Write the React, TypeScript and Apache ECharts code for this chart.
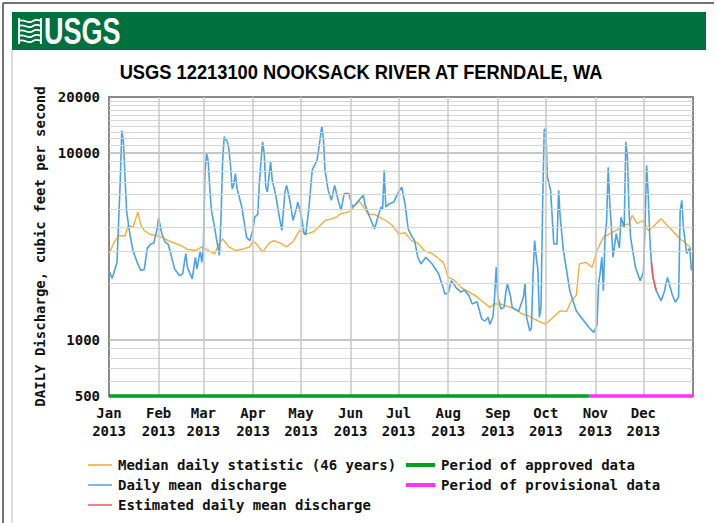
import React, { useEffect, useRef } from "react";
import * as echarts from "echarts";

// ---- axis data ----
const monthStartDays = [0, 31, 59, 90, 120, 151, 181, 212, 243, 273, 304, 334];
const monthLabels = ["Jan", "Feb", "Mar", "Apr", "May", "Jun", "Jul", "Aug", "Sep", "Oct", "Nov", "Dec"];
const yearLabel = "2013";
const yMin = 500;
const yMax = 20000;
const yearDays = 365;

// ---- series data: [day of year (0 = Jan 1), cubic feet per second] ----
const dailyMean: [number, number][] = [
  [0, 2350], [2, 2130], [5, 2600], [7, 7000], [8, 13200], [9, 11500], [10, 7500], [11, 4900], [13, 3700],
  [15, 3000], [18, 2550], [20, 2350], [22, 2380], [24, 3100], [26, 3250], [28, 3300], [30, 3900], [31, 4500],
  [33, 3700], [35, 3350], [37, 3250], [39, 2800], [41, 2400], [44, 2210], [46, 2250], [48, 2900], [49, 2450],
  [52, 2120], [54, 2770], [55, 2400], [57, 3000], [58, 2600], [59, 3150], [60, 8000], [61, 9950], [62, 9100],
  [63, 6500], [64, 4940], [66, 4000], [67, 3540], [69, 2830], [70, 4500], [71, 9000], [72, 12270], [74, 11500],
  [75, 10400], [76, 8500], [77, 6430], [78, 6800], [79, 7770], [80, 6500], [81, 6000], [83, 5150], [85, 4000],
  [86, 3540], [88, 3400], [90, 3900], [91, 4540], [93, 4700], [94, 7000], [96, 11500], [97, 10000], [98, 6570],
  [99, 6200], [101, 8950], [102, 7200], [104, 6070], [106, 4800], [108, 3855], [110, 6200], [111, 6720],
  [113, 5590], [115, 4360], [117, 5000], [118, 5470], [120, 4700], [122, 3700], [123, 3650], [125, 5150],
  [127, 8100], [130, 9170], [131, 10400], [133, 13950], [134, 12000], [135, 8100], [137, 6320], [139, 5590],
  [141, 6720], [143, 5700], [145, 4940], [147, 6070], [150, 6070], [152, 5150], [154, 5300], [157, 5700],
  [159, 5940], [160, 5300], [163, 4540], [166, 3930], [168, 4540], [170, 5150], [171, 5000], [172, 8100],
  [173, 5150], [175, 5350], [178, 5470], [181, 6220], [183, 6570], [185, 5350], [187, 3930], [189, 3620],
  [191, 3400], [193, 2770], [195, 2550], [198, 2770], [202, 2550], [206, 2260], [208, 2000], [210, 1760],
  [212, 1780], [214, 2076], [217, 1900], [220, 1800], [222, 1850], [225, 1725], [227, 1555], [230, 1600],
  [233, 1290], [235, 1260], [237, 1320], [238, 1210], [240, 1330], [241, 1690], [242, 2450], [243, 1700],
  [245, 1460], [247, 1500], [248, 1800], [249, 1990], [251, 1700], [252, 1490], [256, 1420], [258, 1600],
  [259, 1690], [260, 1990], [261, 1318], [263, 1118], [264, 1150], [265, 2200], [266, 3400], [267, 2800],
  [268, 2400], [269, 1320], [270, 1500], [271, 5150], [272, 13300], [273, 13600], [274, 7450], [276, 6320],
  [278, 3270], [280, 3250], [281, 6320], [282, 4540], [284, 3010], [288, 1834], [292, 1432], [296, 1290],
  [300, 1165], [303, 1095], [305, 1200], [306, 1990], [307, 2300], [308, 2770], [309, 1834], [310, 3540],
  [311, 4300], [312, 8400], [313, 5350], [314, 4000], [315, 2770], [317, 3700], [319, 3100], [320, 4540],
  [322, 4000], [323, 11500], [324, 9500], [325, 4940], [326, 3540], [329, 2450], [332, 2076], [334, 2300],
  [335, 3990], [336, 8600], [337, 6000], [338, 3540], [339, 2600], [340, 2160], [341, 1990], [342, 1834],
  [345, 1620], [347, 1800], [349, 2160], [352, 1750], [354, 1590], [356, 1700], [357, 4940], [358, 5590],
  [359, 4000], [361, 2900], [363, 3100], [364, 2350],
];

const estimatedMean: [number, number][] = [
  [339, 2600], [340, 2160], [341, 1990], [342, 1834],
];

const medianDaily: [number, number][] = [
  [0, 2890], [3, 3300], [6, 3620], [10, 3600], [12, 4110], [15, 4000], [18, 4850], [20, 4100], [22, 3855],
  [25, 3700], [29, 3620], [33, 3550], [37, 3400], [41, 3300], [45, 3200], [49, 3050], [54, 3010], [58, 3150],
  [62, 3010], [66, 2890], [69, 3300], [71, 3470], [75, 3150], [79, 3010], [83, 3050], [88, 3150], [90, 3400],
  [93, 3200], [96, 2950], [100, 3300], [103, 3400], [107, 3300], [111, 3150], [115, 3350], [119, 3855],
  [124, 3700], [128, 3800], [132, 4100], [135, 4360], [139, 4450], [142, 4540], [145, 4750], [150, 4850],
  [153, 5150], [156, 5590], [159, 5150], [162, 4720], [166, 4700], [169, 4540], [173, 4360], [177, 4110],
  [181, 3700], [185, 3750], [189, 3400], [193, 3300], [197, 3010], [202, 2900], [206, 2720], [209, 2600],
  [212, 2160], [216, 2080], [220, 1910], [225, 1800], [229, 1725], [233, 1620], [238, 1490], [241, 1560],
  [245, 1555], [250, 1500], [254, 1460], [258, 1380], [262, 1345], [266, 1290], [270, 1240], [273, 1215],
  [278, 1330], [282, 1430], [286, 1420], [289, 1620], [292, 1730], [294, 2550], [298, 2600], [302, 2450],
  [305, 3010], [309, 3540], [313, 3700], [317, 3855], [321, 4110], [325, 4180], [327, 4640], [330, 4200],
  [334, 4360], [337, 3855], [341, 4110], [345, 4450], [349, 4100], [352, 3855], [357, 3470], [361, 3270],
  [364, 3080],
];

// approval periods: [start day, end day]
const approvedPeriod: [number, number] = [0, 300];
const provisionalPeriod: [number, number] = [300, 365];

const titleText = "USGS 12213100 NOOKSACK RIVER AT FERNDALE, WA";
const yAxisName = "DAILY Discharge, cubic feet per second";

// ---- logo shape ----
const logoPath =
  "M0 3 C5 0 9 7 14 3 C17 1 20 2 22 3 " +
  "M0 8 C5 5 9 12 14 8 C17 6 20 7 22 8 " +
  "M0 13 C5 10 9 17 14 13 C17 11 20 12 22 13 " +
  "M0 18 C5 15 9 22 14 18 C17 16 20 17 22 18 " +
  "M0 23 C5 20 9 27 14 23 C17 21 20 22 22 23 " +
  "M0 0 L0 26 M22 0 L22 26";
let registered = false;
function registerLogo() {
  if (registered) return;
  registered = true;
  echarts.graphic.registerShape("usgsLogo", echarts.graphic.extendPath(logoPath, {}) as any);
}

const MONO = '"DejaVu Sans Mono", monospace';

function buildGridLines() {
  const h: any[] = [];
  for (let dec = 100; dec <= 10000; dec *= 10) {
    for (let k = 1; k <= 9; k++) {
      const v = dec * k;
      if (v <= yMin || v >= yMax) continue;
      const major = k === 1;
      h.push({ yAxis: v, lineStyle: { color: major ? "#b5b5b5" : "#d6d6d6", width: major ? 1.5 : 1, type: "solid" } });
    }
  }
  for (let k = 11; k <= 19; k++) {
    h.push({ yAxis: k * 1000, lineStyle: { color: "#d6d6d6", width: 1, type: "solid" } });
  }
  const v: any[] = monthStartDays
    .slice(1)
    .map((d) => ({ xAxis: d, lineStyle: { color: "#c8c8c8", width: 1.5, type: "solid" } }));
  return [...h, ...v];
}

export default function App() {
  const ref = useRef<HTMLDivElement>(null);
  useEffect(() => {
    registerLogo();
    const chart = echarts.init(ref.current!, null, { renderer: "svg" });
    const legendRow = (y: number, x: number, color: string, text: string, w: number, lw: number) => [
      { type: "line", shape: { x1: x, y1: y, x2: x + w, y2: y }, style: { stroke: color, lineWidth: lw } },
      {
        type: "text",
        x: x + w + 6,
        y,
        style: { text, fill: "#111", font: `bold 14px ${MONO}`, verticalAlign: "middle", align: "left" },
      },
    ];
    const option: any = {
      animation: false,
      backgroundColor: "#ffffff",
      grid: { left: 109, top: 97, right: 24, bottom: 127, show: true, borderColor: "#8a8a8a", borderWidth: 2, backgroundColor: "transparent" },
      xAxis: {
        type: "value",
        min: 0,
        max: yearDays,
        axisLine: { show: false },
        axisTick: { show: false },
        splitLine: { show: false },
        axisLabel: {
          customValues: monthStartDays,
          formatter: (v: number) => `${monthLabels[monthStartDays.indexOf(Math.round(v))]}\n${yearLabel}`,
          fontFamily: MONO,
          fontWeight: "bold",
          fontSize: 14,
          color: "#111",
          lineHeight: 18,
          margin: 8,
        },
      },
      yAxis: {
        type: "log",
        logBase: 10,
        min: yMin,
        max: yMax,
        axisLine: { show: false },
        axisTick: { show: false },
        splitLine: { show: false },
        axisLabel: {
          formatter: (v: number) => String(Math.round(v)),
          fontFamily: MONO,
          fontWeight: "bold",
          fontSize: 14,
          color: "#111",
          margin: 9,
        },
        name: yAxisName,
        nameLocation: "middle",
        nameGap: 60,
        nameTextStyle: { fontFamily: MONO, fontWeight: "bold", fontSize: 14, color: "#111" },
      },
      series: [
        {
          type: "line",
          data: [],
          z: 1,
          silent: true,
          markLine: { silent: true, symbol: "none", label: { show: false }, lineStyle: { type: "solid" }, data: buildGridLines() },
        },
        {
          name: "Median daily statistic (46 years)",
          type: "line",
          data: medianDaily,
          showSymbol: false,
          z: 3,
          lineStyle: { color: "#f7a832", width: 1.3 },
        },
        {
          name: "Daily mean discharge",
          type: "line",
          data: dailyMean,
          showSymbol: false,
          z: 4,
          lineStyle: { color: "#4fa3dc", width: 1.6 },
        },
        {
          name: "Estimated daily mean discharge",
          type: "line",
          data: estimatedMean,
          showSymbol: false,
          z: 5,
          lineStyle: { color: "#f25a5a", width: 1.6 },
        },
        {
          name: "Period of approved data",
          type: "line",
          data: approvedPeriod.map((d) => [d, yMin]),
          showSymbol: false,
          clip: false,
          z: 6,
          lineStyle: { color: "#00a020", width: 3.5 },
        },
        {
          name: "Period of provisional data",
          type: "line",
          data: provisionalPeriod.map((d) => [d, yMin]),
          showSymbol: false,
          clip: false,
          z: 6,
          lineStyle: { color: "#ff33ff", width: 3.5 },
        },
      ],
      graphic: [
        { type: "rect", shape: { x: 12, y: 12, width: 694, height: 38 }, style: { fill: "#00703f" } },
        { type: "usgsLogo", x: 19, y: 18, scaleX: 1, scaleY: 1, style: { stroke: "#ffffff", fill: null, lineWidth: 1.8 } },
        {
          type: "text",
          x: 44,
          y: 32,
          scaleX: 0.75,
          style: { text: "USGS", fill: "#ffffff", font: 'bold 36px "Liberation Sans", Arial, sans-serif', verticalAlign: "middle", align: "left" },
        },
        {
          type: "text",
          x: 361,
          y: 72,
          scaleX: 0.915,
          style: { text: titleText, fill: "#000", font: 'bold 20px "Liberation Sans", Arial, sans-serif', verticalAlign: "middle", align: "center" },
        },
        { type: "line", shape: { x1: 3, y1: 3, x2: 714, y2: 3 }, style: { stroke: "#444", lineWidth: 1.5 } },
        { type: "line", shape: { x1: 3, y1: 3, x2: 3, y2: 523 }, style: { stroke: "#444", lineWidth: 1.5 } },
        { type: "line", shape: { x1: 12, y1: 50, x2: 12, y2: 523 }, style: { stroke: "#bbb", lineWidth: 1 } },
        ...legendRow(465, 88, "#f7a832", "Median daily statistic (46 years)", 24, 1.5),
        ...legendRow(485, 88, "#4fa3dc", "Daily mean discharge", 24, 1.5),
        ...legendRow(505, 88, "#f25a5a", "Estimated daily mean discharge", 24, 1.5),
        ...legendRow(465, 406, "#00a020", "Period of approved data", 29, 4),
        ...legendRow(485, 406, "#ff33ff", "Period of provisional data", 29, 4),
      ],
    };
    chart.setOption(option);
    return () => chart.dispose();
  }, []);
  return (
    <div
      ref={ref}
      style={{ position: "fixed", left: 0, top: 0, width: 717, height: 523, background: "#fff" }}
    />
  );
}
